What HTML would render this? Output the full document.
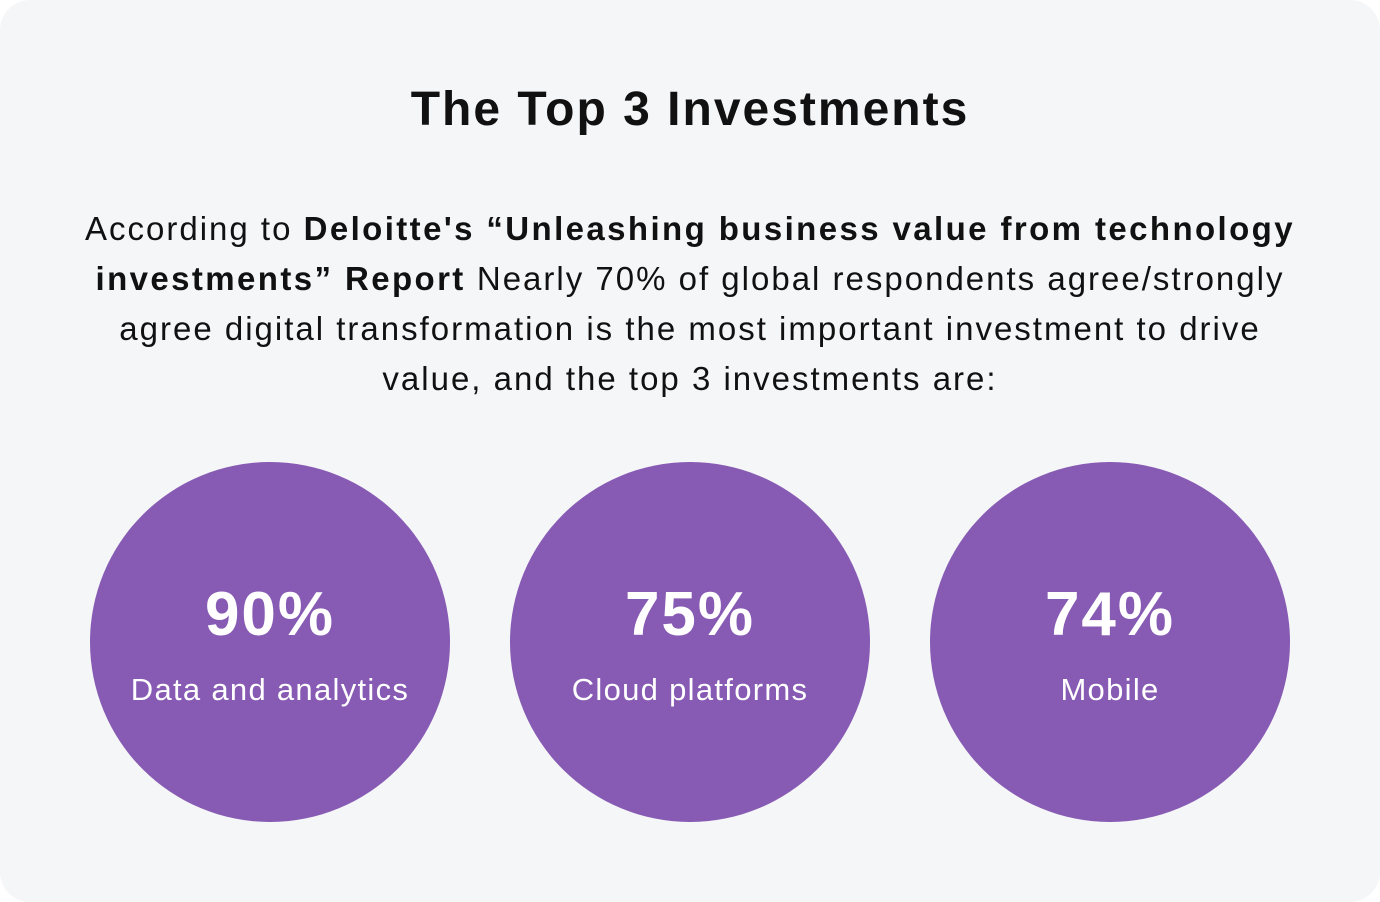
<!DOCTYPE html>
<html><head><style>
html,body{margin:0;padding:0;background:#fff;}
.card{position:absolute;left:0;top:0;width:1380px;height:902px;background:#f5f6f8;border-radius:30px;font-family:"Liberation Sans",sans-serif;color:#111;}
h1{position:absolute;top:82px;left:0;width:1380px;text-align:center;margin:0;font-size:48px;font-weight:bold;letter-spacing:2px;line-height:56px;}
p{position:absolute;top:204px;left:0;width:1380px;text-align:center;margin:0;font-size:33px;line-height:50px;letter-spacing:2px;white-space:nowrap;}
p b{letter-spacing:2.4px;}
.c{position:absolute;top:462px;width:360px;height:360px;border-radius:50%;background:#875ab3;}
.n{position:absolute;top:582px;width:360px;font-size:62px;font-weight:bold;line-height:66px;letter-spacing:2px;color:#fff;text-align:center;}
.l{position:absolute;top:672px;width:360px;font-size:31px;line-height:36px;letter-spacing:1.3px;color:#fff;text-align:center;}
</style></head><body>
<div class="card">
<h1>The Top 3 Investments</h1>
<p>According to <b>Deloitte's “Unleashing business value from technology</b><br><b>investments” Report</b> Nearly 70% of global respondents agree/strongly<br>agree digital transformation is the most important investment to drive<br>value, and the top 3 investments are:</p>
<div class="c" style="left:90px"></div><div class="c" style="left:510px"></div><div class="c" style="left:930px"></div>
<div class="n" style="left:90px">90%</div>
<div class="n" style="left:510px">75%</div>
<div class="n" style="left:930px">74%</div>
<div class="l" style="left:90px">Data and analytics</div>
<div class="l" style="left:510px">Cloud platforms</div>
<div class="l" style="left:930px">Mobile</div>
</div>
</body></html>
